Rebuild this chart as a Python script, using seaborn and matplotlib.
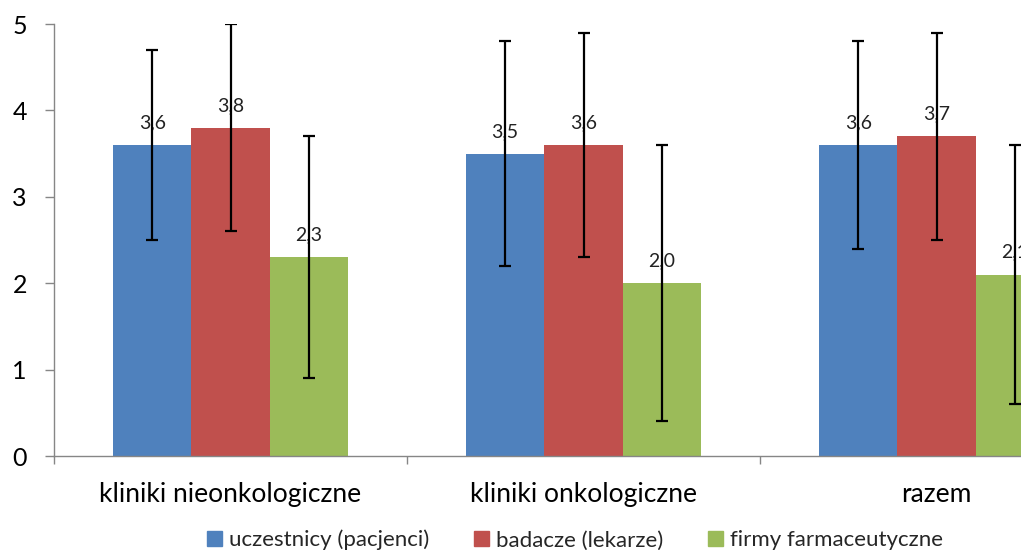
import matplotlib
matplotlib.use("Agg")
import matplotlib.pyplot as plt
import pandas as pd
import numpy as np
import seaborn as sns

sns.set_theme(style="white")
plt.rcParams['font.family'] = ['Lato', 'DejaVu Sans']

categories = ["kliniki nieonkologiczne", "kliniki onkologiczne", "razem"]
groups = ["uczestnicy (pacjenci)", "badacze (lekarze)", "firmy farmaceutyczne"]
means = {
    "uczestnicy (pacjenci)": [3.6, 3.5, 3.6],
    "badacze (lekarze)": [3.8, 3.6, 3.7],
    "firmy farmaceutyczne": [2.3, 2.0, 2.1],
}
errors = {
    "uczestnicy (pacjenci)": [1.1, 1.3, 1.2],
    "badacze (lekarze)": [1.2, 1.3, 1.2],
    "firmy farmaceutyczne": [1.4, 1.6, 1.5],
}
colors = ["#4F81BD", "#C0504D", "#9BBB59"]

rows = []
for g in groups:
    for c, m, e in zip(categories, means[g], errors[g]):
        rows.append({"kategoria": c, "grupa": g, "wartosc": m, "sd": e})
df = pd.DataFrame(rows)

fig = plt.figure(figsize=(10.21, 5.5), dpi=100)
ax = fig.add_axes([54 / 1021, 94 / 550, 1059 / 1021, 432 / 550])

sns.barplot(data=df, x="kategoria", y="wartosc", hue="grupa", order=categories,
            hue_order=groups, palette=colors, width=0.666, errorbar=None,
            saturation=1, linewidth=0, ax=ax, zorder=2)

# error bars and value labels, positioned from the drawn bars
for container, g in zip(ax.containers, groups):
    for bar, m, e in zip(container, means[g], errors[g]):
        xc = bar.get_x() + bar.get_width() / 2
        ax.errorbar(xc, m, yerr=e, color="black", lw=1.6, capsize=4.5,
                    capthick=1.6, zorder=5)
        ax.annotate(f"{m:.1f}".replace(".", ","), (xc, m), xytext=(0, 16),
                    textcoords="offset points", ha="center", va="center",
                    fontsize=14, color="#222222", zorder=3)

ax.set_xlim(-0.5, 2.5)
ax.set_ylim(0, 5)
ax.set_yticks([0, 1, 2, 3, 4, 5])
ax.set_xlabel("")
ax.set_ylabel("")

ax.set_xticks([0, 1, 2])
ax.set_xticklabels(categories, fontsize=19, color="black")
ax.set_xticks([-0.5, 0.5, 1.5], minor=True)
ax.tick_params(axis="x", which="major", length=0, pad=19)
ax.tick_params(axis="x", which="minor", length=6, width=1, color="#868686",
               direction="out", bottom=True)
ax.tick_params(axis="y", length=6.5, width=1, color="#868686", direction="out",
               left=True, labelsize=18, labelcolor="black", pad=13)

for s in ["top", "right"]:
    ax.spines[s].set_visible(False)
for s in ["left", "bottom"]:
    ax.spines[s].set_color("#868686")
    ax.spines[s].set_linewidth(1)

ax.legend_.remove()
handles = [plt.Rectangle((0, 0), 1, 1, color=c) for c in colors]
fig.legend(handles, groups, loc="center", bbox_to_anchor=(0.563, 0.018),
           ncol=3, frameon=False, fontsize=16, handlelength=0.7,
           handleheight=0.7, handletextpad=0.3, columnspacing=2.0)

fig.savefig("out.png", dpi=100)
